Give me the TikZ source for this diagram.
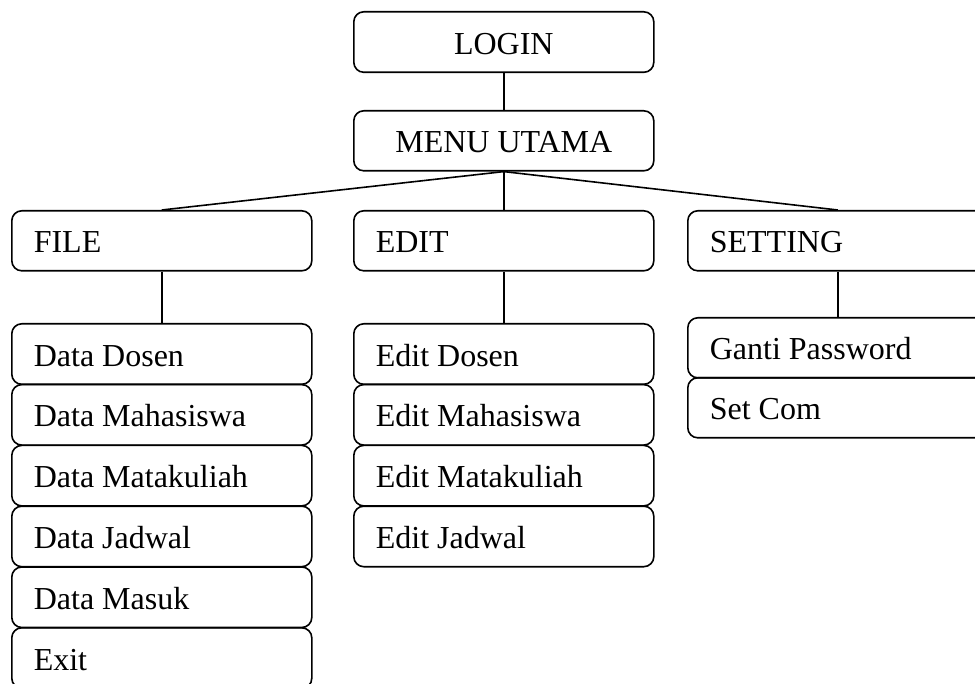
\documentclass[tikz,border=0pt]{standalone}
\usepackage{fontspec}
\setmainfont{Liberation Serif}
\begin{document}
\begin{tikzpicture}[x=1pt,y=-1pt,
  line width=1.6pt,
  menubox/.style={draw, rounded corners=10pt, anchor=north west,
    minimum width=300pt, minimum height=60.5pt, inner sep=0pt,
    text height=24pt, text depth=0pt,
    font=\fontsize{32}{38}\selectfont},
  leftbox/.style={menubox, text width=256pt, align=left,
    execute at begin node={\spaceskip=0pt\xspaceskip=0pt}},
  link/.style={draw, line width=1.6pt}]
\useasboundingbox (0,0) rectangle (975,684);
\clip (0,0) rectangle (975,684);

% top levels
\node[menubox] (login) at (353,11) {LOGIN};
\node[menubox, minimum height=60pt] (menu) at (353,110) {MENU UTAMA};

% main menu items
\node[leftbox, minimum height=60pt] (file) at (11,210) {FILE};
\node[leftbox, minimum height=60pt] (edit) at (353,210) {EDIT};
\node[leftbox, minimum height=60pt] (setting) at (687,210) {SETTING};

% FILE submenu
\node[leftbox] (fdosen)  at (11,323)   {Data Dosen};
\node[leftbox] (fmhs)    at (11,383.8) {Data Mahasiswa};
\node[leftbox] (fmk)     at (11,444.6) {Data Matakuliah};
\node[leftbox] (fjadwal) at (11,505.4) {Data Jadwal};
\node[leftbox] (fmasuk)  at (11,566.2) {Data Masuk};
\node[leftbox] (fexit)   at (11,627)   {Exit};

% EDIT submenu
\node[leftbox] (edosen)  at (353,323)   {Edit Dosen};
\node[leftbox] (emhs)    at (353,383.8) {Edit Mahasiswa};
\node[leftbox] (emk)     at (353,444.6) {Edit Matakuliah};
\node[leftbox] (ejadwal) at (353,505.4) {Edit Jadwal};

% SETTING submenu
\node[leftbox, minimum height=60pt] (gpass)  at (687,317) {Ganti Password};
\node[leftbox, minimum height=60pt] (setcom) at (687,377) {Set Com};

% connectors
\path[link] (login.south) -- (menu.north);
\path[link] (menu.south) -- (file.north);
\path[link] (menu.south) -- (edit.north);
\path[link] (menu.south) -- (setting.north);
\path[link] (file.south) -- (fdosen.north);
\path[link] (edit.south) -- (edosen.north);
\path[link] (setting.south) -- (gpass.north);
\end{tikzpicture}
\end{document}
